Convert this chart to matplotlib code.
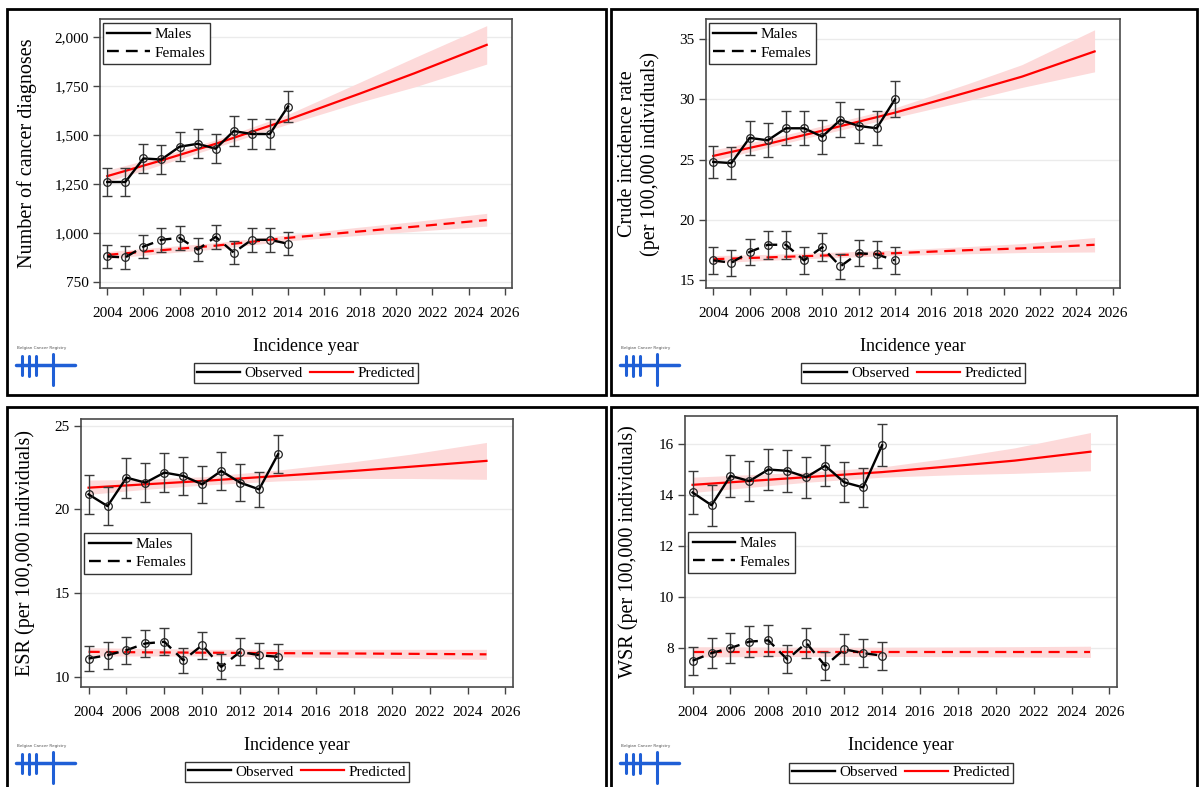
import matplotlib.pyplot as plt
from matplotlib.ticker import FuncFormatter
from matplotlib.lines import Line2D
from matplotlib.patches import Rectangle

plt.rcParams['font.family'] = ['Liberation Serif', 'DejaVu Serif']

# observed years and predicted knots
years = [2004, 2005, 2006, 2007, 2008, 2009, 2010, 2011, 2012, 2013, 2014]
pred_years = [2004, 2007, 2010, 2014, 2018, 2021, 2025]

# panel 1: number of diagnoses
n_male = [1260, 1260, 1380, 1375, 1440, 1455, 1430, 1520, 1505, 1505, 1645]
n_male_err = [70, 70, 73, 73, 74, 75, 74, 76, 76, 76, 80]
n_female = [880, 875, 930, 965, 975, 915, 980, 900, 965, 965, 945]
n_female_err = [58, 58, 60, 61, 61, 59, 61, 59, 61, 61, 60]
n_male_pred = [1290, 1370, 1455, 1578, 1712, 1815, 1960]
n_male_lo = [1262, 1348, 1437, 1555, 1668, 1745, 1862]
n_male_hi = [1320, 1393, 1475, 1605, 1770, 1895, 2058]
n_female_pred = [888, 912, 935, 975, 1008, 1032, 1066]
n_female_lo = [868, 895, 918, 960, 988, 1008, 1035]
n_female_hi = [905, 928, 950, 990, 1030, 1058, 1100]

# panel 2: crude incidence rate
c_male = [24.8, 24.7, 26.8, 26.6, 27.6, 27.6, 26.9, 28.3, 27.8, 27.6, 30.0]
c_male_err = [1.35, 1.35, 1.4, 1.4, 1.4, 1.4, 1.4, 1.45, 1.4, 1.4, 1.5]
c_female = [16.6, 16.4, 17.3, 17.9, 17.9, 16.6, 17.7, 16.1, 17.2, 17.1, 16.6]
c_female_err = [1.1, 1.1, 1.1, 1.15, 1.15, 1.1, 1.15, 1.05, 1.1, 1.1, 1.1]
c_male_pred = [25.3, 26.3, 27.4, 28.9, 30.6, 31.9, 34.0]
c_male_lo = [24.9, 26.0, 27.1, 28.5, 29.9, 31.0, 32.3]
c_male_hi = [25.8, 26.7, 27.8, 29.3, 31.3, 32.9, 35.8]
c_female_pred = [16.7, 16.85, 17.0, 17.2, 17.45, 17.6, 17.9]
c_female_lo = [16.4, 16.6, 16.8, 17.0, 17.15, 17.25, 17.3]
c_female_hi = [17.0, 17.1, 17.25, 17.45, 17.75, 18.0, 18.5]

# panel 3: ESR
e_male = [20.9, 20.2, 21.9, 21.6, 22.2, 22.0, 21.5, 22.3, 21.6, 21.2, 23.3]
e_male_err = [1.15, 1.15, 1.2, 1.15, 1.15, 1.15, 1.1, 1.15, 1.1, 1.05, 1.15]
e_female = [11.1, 11.3, 11.6, 12.0, 12.1, 11.0, 11.9, 10.6, 11.5, 11.3, 11.2]
e_female_err = [0.75, 0.8, 0.8, 0.8, 0.8, 0.75, 0.8, 0.75, 0.8, 0.75, 0.75]
e_male_pred = [21.3, 21.5, 21.7, 22.0, 22.3, 22.55, 22.9]
e_male_lo = [20.9, 21.2, 21.45, 21.7, 21.85, 21.85, 21.8]
e_male_hi = [21.75, 21.8, 21.95, 22.35, 22.85, 23.3, 24.0]
e_female_pred = [11.5, 11.47, 11.45, 11.42, 11.4, 11.38, 11.35]
e_female_lo = [11.25, 11.25, 11.25, 11.2, 11.15, 11.1, 11.05]
e_female_hi = [11.75, 11.7, 11.65, 11.65, 11.65, 11.65, 11.65]

# panel 4: WSR
w_male = [14.1, 13.6, 14.75, 14.55, 15.0, 14.95, 14.7, 15.15, 14.5, 14.3, 15.95]
w_male_err = [0.83, 0.8, 0.83, 0.8, 0.82, 0.82, 0.8, 0.8, 0.78, 0.77, 0.82]
w_female = [7.5, 7.8, 8.0, 8.25, 8.3, 7.55, 8.2, 7.3, 7.95, 7.8, 7.7]
w_female_err = [0.55, 0.58, 0.58, 0.6, 0.6, 0.55, 0.6, 0.55, 0.58, 0.55, 0.55]
w_male_pred = [14.4, 14.55, 14.7, 14.9, 15.15, 15.35, 15.7]
w_male_lo = [14.1, 14.3, 14.5, 14.7, 14.8, 14.85, 14.95]
w_male_hi = [14.7, 14.8, 14.9, 15.1, 15.5, 15.85, 16.45]
w_female_pred = [7.85, 7.85, 7.85, 7.85, 7.85, 7.85, 7.85]
w_female_lo = [7.65, 7.66, 7.67, 7.67, 7.66, 7.65, 7.63]
w_female_hi = [8.05, 8.04, 8.03, 8.03, 8.04, 8.05, 8.07]

W, H = 1200, 787
fig = plt.figure(figsize=(12, 7.87), dpi=100)


def px_axes(l, t, r, b):
    return fig.add_axes([l / W, 1 - b / H, (r - l) / W, (b - t) / H])


def box(l, t, r, b):
    fig.add_artist(Rectangle((l / W, 1 - b / H), (r - l) / W, (b - t) / H,
                             transform=fig.transFigure, fill=False, ec='black', lw=2))


def logo(x, y):
    # rough Belgian Cancer Registry mark
    fig.text(x / W, 1 - y / H, 'Belgian Cancer Registry', fontsize=3, color='#555555',
             family='DejaVu Sans', va='center')
    blue = '#1f5fd6'
    fig.add_artist(Line2D([(x - 1) / W, (x + 58) / W], [1 - (y + 17) / H] * 2,
                          transform=fig.transFigure, color=blue, lw=2.5, solid_capstyle='round'))
    for dx, y0, y1 in [(5, 8, 27), (12, 8, 28), (19, 8, 27), (36, 6, 37)]:
        fig.add_artist(Line2D([(x + dx) / W] * 2, [1 - (y + y0) / H, 1 - (y + y1) / H],
                              transform=fig.transFigure, color=blue, lw=2.2, solid_capstyle='round'))


def panel(ax, male, male_err, female, female_err, mp, mlo, mhi, fp, flo, fhi,
          ylim, yticks, ylabel, ylab_x, sex_leg_y, fmt=None):
    ax.fill_between(pred_years, mlo, mhi, color='#fddada', lw=0, zorder=1)
    ax.fill_between(pred_years, flo, fhi, color='#fddada', lw=0, zorder=1)
    ax.plot(pred_years, mp, color='red', lw=1.6, zorder=2)
    ax.plot(pred_years, fp, color='red', lw=1.6, ls=(0, (5, 3)), zorder=2)
    for vals, err, ls in [(male, male_err, '-'), (female, female_err, (0, (5, 3)))]:
        ax.errorbar(years, vals, yerr=err, fmt='none', ecolor='#3a3a3a', elinewidth=1,
                    capsize=3.5, capthick=1, zorder=3)
        ax.plot(years, vals, color='black', lw=1.7, ls=ls, marker='o', mfc='none',
                mec='#222222', ms=5.5, mew=0.9, zorder=4)

    ax.set_xlim(2003.6, 2026.4)
    ax.set_xticks(range(2004, 2027, 2))
    ax.set_ylim(*ylim)
    ax.set_yticks(yticks)
    if fmt:
        ax.yaxis.set_major_formatter(FuncFormatter(fmt))
    ax.yaxis.grid(True, color='#ebebeb', lw=1)
    ax.set_axisbelow(True)
    for s in ax.spines.values():
        s.set_color('#4a4a4a')
        s.set_linewidth(1.2)
    ax.tick_params(axis='both', direction='out', length=5, width=1, color='#444444',
                   labelsize=11)
    ax.tick_params(axis='x', pad=9)
    ax.tick_params(axis='y', pad=3)

    ax.set_ylabel(ylabel, fontsize=14.5)
    ax.yaxis.set_label_coords(ylab_x, 0.5)
    ax.set_xlabel('Incidence year', fontsize=13)
    ax.xaxis.set_label_coords(0.5, -0.185)

    sex_handles = [Line2D([], [], color='black', lw=1.7),
                   Line2D([], [], color='black', lw=1.7, ls=(0, (5, 3)))]
    leg1 = ax.legend(sex_handles, ['Males', 'Females'], loc='upper left',
                     bbox_to_anchor=(0.007, sex_leg_y), borderaxespad=0, fontsize=11,
                     fancybox=False, framealpha=1, edgecolor='#333333', handlelength=2.8,
                     handletextpad=0.3, labelspacing=0.3, borderpad=0.3)
    leg1.get_frame().set_linewidth(1)
    ax.add_artist(leg1)

    obs_handles = [Line2D([], [], color='black', lw=1.7),
                   Line2D([], [], color='red', lw=1.6)]
    leg2 = ax.legend(obs_handles, ['Observed', 'Predicted'], loc='center',
                     bbox_to_anchor=(0.5, -0.316), ncol=2, fontsize=11, fancybox=False,
                     framealpha=1, edgecolor='#333333', handlelength=2.8,
                     handletextpad=0.3, columnspacing=0.5, borderpad=0.2)
    leg2.get_frame().set_linewidth(1)


box(7, 9, 606, 395)
box(611, 9, 1197, 395)
box(7, 407, 606, 800)
box(611, 407, 1197, 800)

ax1 = px_axes(100, 19, 512, 288)
panel(ax1, n_male, n_male_err, n_female, n_female_err,
      n_male_pred, n_male_lo, n_male_hi, n_female_pred, n_female_lo, n_female_hi,
      (719, 2092), [750, 1000, 1250, 1500, 1750, 2000], 'Number of cancer diagnoses',
      -0.153, 0.985, fmt=lambda v, p: '{:,.0f}'.format(v))

ax2 = px_axes(706, 19, 1120, 288)
panel(ax2, c_male, c_male_err, c_female, c_female_err,
      c_male_pred, c_male_lo, c_male_hi, c_female_pred, c_female_lo, c_female_hi,
      (14.3, 36.7), [15, 20, 25, 30, 35],
      'Crude incidence rate\n(per 100,000 individuals)', -0.111, 0.985)

ax3 = px_axes(81, 419, 513, 687)
panel(ax3, e_male, e_male_err, e_female, e_female_err,
      e_male_pred, e_male_lo, e_male_hi, e_female_pred, e_female_lo, e_female_hi,
      (9.4, 25.4), [10, 15, 20, 25], 'ESR (per 100,000 individuals)', -0.106, 0.575)

ax4 = px_axes(685, 416, 1117, 687)
panel(ax4, w_male, w_male_err, w_female, w_female_err,
      w_male_pred, w_male_lo, w_male_hi, w_female_pred, w_female_lo, w_female_hi,
      (6.47, 17.1), [8, 10, 12, 14, 16], 'WSR (per 100,000 individuals)', -0.109, 0.572)

logo(17, 348)
logo(621, 348)
logo(17, 746)
logo(621, 746)

fig.savefig('out.png', dpi=100)
